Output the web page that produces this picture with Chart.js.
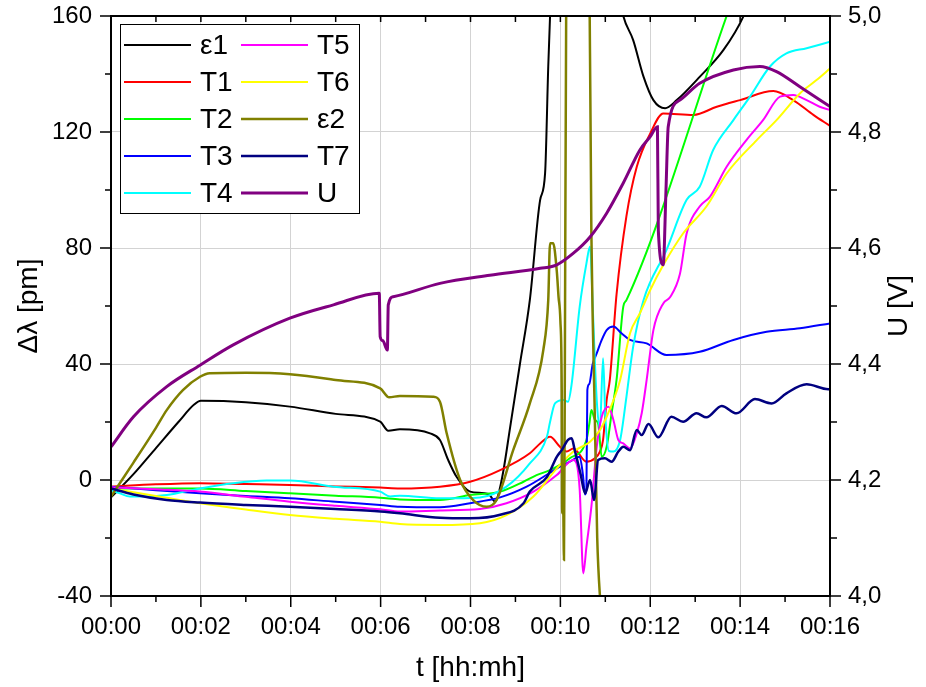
<!DOCTYPE html>
<html>
<head>
<meta charset="utf-8">
<script src="https://cdn.jsdelivr.net/npm/chart.js@4.4.1/dist/chart.umd.min.js"></script>
<style>
  body { margin: 0; background: #fff; }
</style>
</head>
<body>
<canvas id="chart1" width="926" height="687"></canvas>
<script>
// time in minutes, values in pm (U in V)
var labels = ['ε1', 'T1', 'T2', 'T3', 'T4', 'T5', 'T6', 'ε2', 'T7', 'U'];
var colors = ['#000000', '#ff0000', '#00ff00', '#0000ff', '#00ffff', '#ff00ff', '#ffff00', '#808000', '#000080', '#800080'];
var xTicks = [0, 2, 4, 6, 8, 10, 12, 14, 16];

var e1T = [0, 0.5, 1, 1.5, 1.85, 2, 3, 3.98, 5, 5.99, 6.17, 6.43, 7.1, 7.32, 7.5, 7.69, 7.99, 8.4, 8.55, 8.62, 8.73, 8.88, 9.1, 9.32, 9.55, 9.66, 9.73, 9.77, 9.85, 10.6, 11.25, 11.4, 11.62, 11.85, 12.07, 12.33, 12.59, 13.1, 13.63, 14.07, 14.6, 16];
var e1V = [-6, 2, 11, 20, 26, 27.3, 26.8, 25.3, 22.8, 20.1, 17, 17.5, 16.1, 13.8, 7, 1.1, -4, -4.8, -7.5, -5, 3, 18, 40, 62, 96.6, 105.8, 142.5, 159.8, 200, 260, 172, 160, 151.7, 139.1, 131, 128.2, 131, 139, 148.3, 159.8, 182, 240];

var t1T = [0, 1, 1.98, 3, 3.98, 5, 5.99, 6.43, 7.32, 7.99, 8.66, 9.32, 9.55, 9.77, 9.99, 10.14, 10.29, 10.58, 10.77, 10.88, 10.95, 11.03, 11.1, 11.25, 11.47, 11.7, 12.0, 12.29, 12.96, 13.48, 14.0, 14.74, 15.18, 15.63, 16];
var t1V = [-2.3, -1.5, -1.1, -1.4, -1.7, -2.2, -2.6, -2.9, -2.3, -0.6, 3.4, 9.2, 12.6, 14.9, 11.5, 9.8, 10.9, 6.3, 7.5, 9.8, 13.8, 27.6, 34.5, 64, 91, 108, 119.5, 126.4, 125.9, 128.7, 131, 134.1, 131, 125.9, 122.1];

var t2T = [0, 1, 1.98, 3, 3.98, 5, 5.99, 6.43, 7.32, 7.99, 8.66, 9.18, 9.47, 9.77, 10.21, 10.58, 10.65, 10.69, 10.77, 10.84, 10.92, 11.03, 11.14, 11.25, 11.4, 11.47, 13.7, 14.5];
var t2V = [-2.9, -2.9, -2.9, -3.8, -4.6, -5.4, -6.1, -6.7, -6.9, -5.2, -4, -0.6, 1.7, 3.4, 7.5, 13.8, 20, 24.1, 20.7, 19.5, 8, 11.5, 23, 34.5, 59.8, 62, 160, 195];

var t3T = [0, 1, 1.98, 3, 3.98, 5, 5.99, 6.43, 7.32, 7.99, 8.66, 9.25, 9.77, 9.99, 10.21, 10.43, 10.5, 10.55, 10.58, 10.6, 10.64, 10.72, 10.81, 10.92, 11.03, 11.18, 11.36, 11.55, 11.92, 12.36, 13.1, 13.85, 14.59, 15.33, 16];
var t3V = [-2.3, -3.5, -4.6, -5.5, -6.3, -7.5, -8.6, -9.2, -9.4, -8, -6, -2.3, 2.5, 4.6, 6.3, 8, 2, -5, -3, 31, 33, 40, 43.7, 48.3, 51.7, 52.9, 50.6, 48.3, 47.1, 43.1, 44.2, 48.3, 51.1, 52.3, 54];

var t4T = [0, 0.2, 0.42, 0.8, 1.24, 1.98, 2.72, 3.46, 3.98, 4.95, 5.99, 6.21, 6.43, 7.32, 8.21, 8.8, 9.32, 9.7, 9.77, 9.88, 10.07, 10.17, 10.25, 10.43, 10.58, 10.66, 10.72, 10.77, 10.82, 10.88, 10.95, 11.0, 11.08, 11.18, 11.33, 11.47, 11.62, 11.85, 12.36, 12.81, 13.1, 13.4, 13.85, 14.22, 14.66, 15.03, 15.48, 16];
var t4V = [-3.5, -4.6, -5.7, -5.7, -5.2, -2.9, -1.1, -0.2, -0.2, -2.3, -4, -5.7, -5.4, -6.3, -6, -2.3, 5.7, 14.9, 20, 26.4, 27.6, 27, 33, 59.8, 74.7, 80.5, 60, 40, 25, 18, 42, 22, 10, 9.8, 13.8, 28.7, 46, 62, 79.3, 96.6, 101.1, 113.8, 124.1, 132.2, 142.5, 147.1, 148.9, 151.1];

var t5T = [0, 1, 1.98, 3, 3.98, 5, 5.99, 6.43, 7.32, 8.21, 8.8, 9.4, 9.92, 10.29, 10.36, 10.43, 10.51, 10.58, 10.69, 10.81, 10.92, 11.07, 11.18, 11.29, 11.4, 11.55, 11.7, 11.81, 11.92, 12.07, 12.29, 12.44, 12.66, 12.81, 13.1, 13.33, 13.7, 14.14, 14.51, 14.89, 15.18, 15.48, 15.77, 16];
var t5V = [-2.5, -3.2, -4, -5.8, -7.5, -8.9, -10.1, -10.9, -10.5, -10, -8, -4, 1.7, 6.9, 5.7, -3.4, -32.2, -23, -9.2, 11.5, 21.8, 25.3, 20.7, 13.8, 12.6, 10.9, 16.1, 23, 34.5, 51.7, 60.9, 63, 71, 85, 94.3, 97.7, 108, 117.2, 124.1, 132.2, 132.8, 131, 128.7, 127.6];

var t6T = [0, 1, 1.98, 3, 3.98, 5, 5.99, 6.43, 7.32, 8.21, 8.8, 9.4, 9.92, 10.29, 10.66, 10.88, 11.03, 11.21, 11.33, 11.55, 11.77, 12.0, 12.29, 12.73, 13.25, 13.7, 14.37, 14.81, 15.33, 15.7, 16];
var t6V = [-3, -5.5, -8, -10.2, -12.1, -13.4, -14.4, -15.2, -15.5, -14.9, -12.1, -5.7, 4, 9.8, 13.2, 17.2, 21.8, 28.7, 34.5, 50.6, 57.5, 65.5, 74.1, 85, 94.3, 105.7, 117.2, 124.1, 133.3, 137.9, 141.9];

var e2T = [0, 0.5, 1, 1.24, 1.6, 1.98, 2.2, 3, 3.98, 5, 5.99, 6.19, 6.43, 7.17, 7.32, 7.47, 7.77, 8.06, 8.36, 8.58, 8.95, 9.32, 9.62, 9.73, 9.77, 9.84, 9.92, 9.96, 10.0, 10.03, 10.04, 10.06, 10.08, 10.1, 10.13, 10.4, 10.65, 10.69, 10.72, 10.76, 10.82, 10.9, 11.1];
var e2V = [-5.7, 6, 18, 24.1, 31, 35.6, 36.8, 37, 36.5, 34.5, 31.6, 28.5, 29, 28.7, 27, 16.1, 0, -6.9, -9.2, -6.9, 10.3, 26.4, 44.8, 62, 81.6, 81.6, 72, 63, 55, 31, -11.5, -5, -27.6, 40, 165, 300, 165, 85, 55, 27, -20, -45, -100];

var t7T = [0, 0.5, 1.24, 1.98, 3, 3.98, 5, 6, 6.43, 7.32, 7.99, 8.66, 9.18, 9.32, 9.7, 9.92, 10.03, 10.17, 10.25, 10.32, 10.45, 10.55, 10.66, 10.75, 10.84, 10.99, 11.14, 11.29, 11.4, 11.55, 11.7, 11.81, 11.96, 12.18, 12.47, 12.73, 13.03, 13.25, 13.59, 13.92, 14.33, 14.7, 15.03, 15.48, 15.96, 16];
var t7V = [-2.9, -5, -6.9, -7.8, -8.6, -9.2, -10, -10.9, -11.5, -13, -13.2, -12, -8, -4, 1, 8, 10.3, 13.8, 14.4, 10.3, 2, -4.6, 0, -6.9, 6.9, 7.5, 6.3, 9.8, 11.5, 10.3, 17.2, 15.5, 19.3, 14.7, 21.8, 20.1, 23, 21.6, 25.5, 23, 27.9, 26.4, 29.9, 33, 31.3, 31.3];

var uT = [0, 0.5, 1.24, 1.98, 2.72, 3.98, 4.95, 5.97, 5.99, 6.05, 6.15, 6.17, 6.28, 7.32, 8.43, 9.55, 9.92, 10.29, 10.66, 11.03, 11.4, 11.77, 12.0, 12.16, 12.18, 12.29, 12.35, 12.4, 12.66, 13.1, 13.85, 14.44, 14.81, 15.33, 16];
var uV = [4.257, 4.309, 4.361, 4.398, 4.433, 4.479, 4.502, 4.522, 4.447, 4.44, 4.424, 4.502, 4.516, 4.539, 4.553, 4.565, 4.571, 4.591, 4.619, 4.66, 4.712, 4.769, 4.792, 4.809, 4.63, 4.571, 4.70, 4.809, 4.855, 4.884, 4.907, 4.913, 4.904, 4.878, 4.844];

var seriesT = [e1T, t1T, t2T, t3T, t4T, t5T, t6T, e2T, t7T, uT];
var seriesV = [e1V, t1V, t2V, t3V, t4V, t5V, t6V, e2V, t7V, uV];
var widths = [2, 2, 2, 2, 2, 2, 2, 2.5, 2.5, 3];

function pts(t, v) {
  return t.map(function(x, i) { return {x: x, y: v[i]}; });
}

var datasets = labels.map(function(name, i) {
  return {
    label: name,
    data: pts(seriesT[i], seriesV[i]),
    borderColor: colors[i],
    backgroundColor: colors[i],
    borderWidth: widths[i],
    pointRadius: 0,
    cubicInterpolationMode: 'monotone',
    yAxisID: name === 'U' ? 'y1' : 'y',
    order: 10 - i
  };
});

var FONT = '"Liberation Sans", Arial, sans-serif';

//Frame, ticks, legend and right title
var decor = {
  id: 'decor',
  afterDatasetsDraw: function(chart) {
    var ctx = chart.ctx, a = chart.chartArea, s = chart.scales;
    ctx.save();
    ctx.strokeStyle = '#000';
    ctx.lineWidth = 2;
    ctx.strokeRect(a.left, a.top, a.right - a.left, a.bottom - a.top);

    ctx.lineWidth = 1.5;
    ctx.beginPath();
    for (var m = 0; m <= 16; m++) {
      var x = s.x.getPixelForValue(m);
      var big = m % 2 === 0;
      ctx.moveTo(x, a.bottom); ctx.lineTo(x, a.bottom + (big ? 11 : 6));
      ctx.moveTo(x, a.top); ctx.lineTo(x, a.top + 6);
    }
    for (var v = -40; v <= 160; v += 20) {
      var y = s.y.getPixelForValue(v);
      ctx.moveTo(a.left, y); ctx.lineTo(a.left - (v % 40 === 0 ? 11 : 6), y);
    }
    for (var k = 0; k <= 10; k++) {
      var y1 = s.y1.getPixelForValue(4 + k * 0.1);
      ctx.moveTo(a.right, y1); ctx.lineTo(a.right + (k % 2 === 0 ? 11 : 7), y1);
    }
    ctx.stroke();

    //legend box
    var bx = a.left + 9, by = a.top + 8;
    ctx.fillStyle = '#fff';
    ctx.fillRect(bx, by, 239, 189);
    ctx.lineWidth = 1;
    ctx.strokeStyle = '#000';
    ctx.strokeRect(bx + 0.5, by + 0.5, 239, 189);
    ctx.font = '28px ' + FONT;
    ctx.textBaseline = 'middle';
    ctx.textAlign = 'left';
    chart.data.datasets.forEach(function(ds, i) {
      var col = i < 5 ? 0 : 1;
      var row = i % 5;
      var ly = by + 21 + row * 37;
      var lx = bx + 4 + col * 117;
      ctx.strokeStyle = ds.borderColor;
      ctx.lineWidth = ds.borderWidth;
      ctx.beginPath();
      ctx.moveTo(lx, ly); ctx.lineTo(lx + 67, ly);
      ctx.stroke();
      ctx.fillStyle = '#000';
      ctx.fillText(ds.label, lx + 76, ly + 1);
    });

    //right axis title, reads bottom to top
    ctx.translate(899, (a.top + a.bottom) / 2);
    ctx.rotate(-Math.PI / 2);
    ctx.textAlign = 'center';
    ctx.fillStyle = '#000';
    ctx.fillText('U [V]', 0, 0);
    ctx.restore();
  }
};

var tickFont = {family: FONT, size: 24};
var titleFont = {family: FONT, size: 28};

function fixVertical(w) {
  return function(sc) {
    sc.width = w;
    sc.paddingTop = 0;
    sc.paddingBottom = 0;
  };
}

var ctx = document.getElementById('chart1').getContext('2d');
var myChart = new Chart(ctx, {
  type: 'line',
  data: { datasets: datasets },
  options: {
    responsive: false,
    animation: false,
    devicePixelRatio: 1,
    layout: { padding: { top: 16, left: 0, right: 0, bottom: 0 } },
    plugins: { legend: { display: false }, tooltip: { enabled: false } },
    scales: {
      x: {
        type: 'linear', min: 0, max: 16,
        afterFit: function(sc) { sc.height = 91; sc.paddingLeft = 0; sc.paddingRight = 0; },
        afterBuildTicks: function(sc) { sc.ticks = xTicks.map(function(v) { return {value: v}; }); },
        ticks: {
          color: '#000', font: tickFont, padding: 6, maxRotation: 0,
          callback: function(v) { return '00:' + (v < 10 ? '0' : '') + v; }
        },
        grid: { color: '#d3d3d3', tickColor: 'rgba(0,0,0,0)', tickLength: 11 },
        border: { display: false },
        title: { display: true, text: 't [hh:mh]', color: '#000', font: titleFont, padding: { top: 0, bottom: 2 } }
      },
      y: {
        position: 'left', min: -40, max: 160,
        afterFit: fixVertical(111),
        ticks: { stepSize: 40, color: '#000', font: tickFont, padding: 8 },
        grid: { color: '#d3d3d3', tickColor: 'rgba(0,0,0,0)', tickLength: 11 },
        border: { display: false },
        title: { display: true, text: 'Δλ [pm]', color: '#000', font: titleFont, padding: { top: 12, bottom: 0 } }
      },
      y1: {
        position: 'right', min: 4, max: 5,
        afterFit: fixVertical(96),
        ticks: {
          stepSize: 0.2, color: '#000', font: tickFont, padding: 7,
          callback: function(v) { return v.toFixed(1).replace('.', ','); }
        },
        grid: { drawOnChartArea: false, tickColor: 'rgba(0,0,0,0)', tickLength: 11 },
        border: { display: false }
      }
    }
  },
  plugins: [decor]
});
</script>
</body>
</html>
